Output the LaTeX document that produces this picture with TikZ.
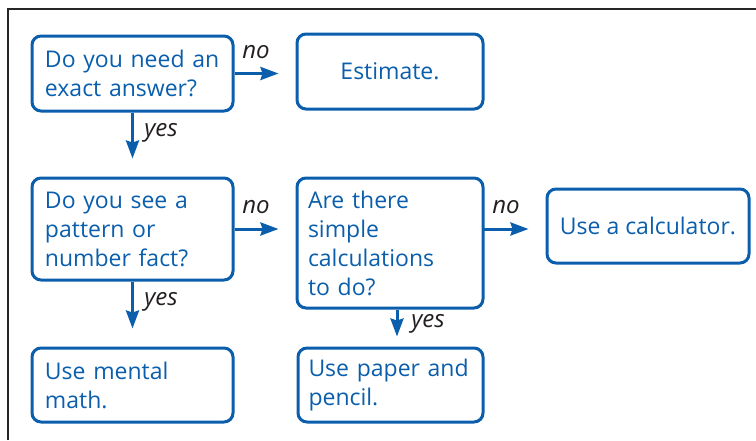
\documentclass[tikz,border=0pt]{standalone}
\usepackage{fontspec}
\setmainfont{Open Sans}
\usetikzlibrary{arrows.meta}
\definecolor{fblue}{HTML}{0A5EAC}
\definecolor{fdark}{HTML}{231F20}
\begin{document}
\begin{tikzpicture}[x=1pt,y=-1pt,
  box/.style={draw=fblue, line width=3pt, rounded corners=9pt, text=fblue,
    font=\fontsize{23}{29}\selectfont, inner sep=0pt, align=left},
  arr/.style={draw=fblue, line width=3pt, -{Stealth[length=18pt,width=13pt,inset=2pt]}},
  lbl/.style={font=\fontsize{24}{26}\selectfont\itshape, text=fdark, inner sep=0pt}]
\useasboundingbox (0,0) rectangle (756,440);
\draw[black!85, line width=2pt] (8,440) -- (8,9) -- (756,9);

\node[box, minimum width=201pt, minimum height=75pt, text width=175pt] (b1) at (132.5,73.5) {Do you need an\\exact answer?};
\node[box, minimum width=186pt, minimum height=75pt, align=center] (est) at (390,71.5) {Estimate.};
\node[box, minimum width=201pt, minimum height=102pt, text width=175pt] (b2) at (132.5,229) {Do you see a\\pattern or\\number fact?};
\node[box, minimum width=186pt, minimum height=130pt, text width=164pt] (b3) at (390,243) {Are there\\simple\\calculations\\to do?};
\node[box, minimum width=202pt, minimum height=74pt, align=center] (calc) at (648,226) {Use a calculator.};
\node[box, minimum width=201pt, minimum height=74pt, text width=175pt] (ment) at (132.5,385) {Use mental\\math.};
\node[box, minimum width=185pt, minimum height=74pt, text width=164pt] (pap) at (390.5,385) {Use paper and\\pencil.};

\draw[arr, shorten >=17pt] (b1.east) -- (b1.east -| est.west);
\draw[arr, shorten >=18pt] (b1.south) -- (b1.south |- b2.north);
\draw[arr, shorten >=17pt] (b2.east) -- (b2.east -| b3.west);
\draw[arr, shorten >=17pt] (b3.west |- b2.east) ++(186,0) coordinate (n3s) (n3s) -- (n3s -| calc.west);
\draw[arr, shorten >=18pt] (b2.south) -- (b2.south |- ment.north);
\draw[arr, shorten >=10pt] ([xshift=7pt]b3.south) -- ([xshift=7pt]b3.south |- pap.north);

\node[lbl] (l1) at (256,52) {no};
\node[lbl] (l2) at (161,133) {yes};
\node[lbl] (l3) at (256,207) {no};
\node[lbl] (l4) at (506,207) {no};
\node[lbl] (l5) at (161,302) {yes};
\node[lbl] (l6) at (428,324) {yes};
\end{tikzpicture}
\end{document}
